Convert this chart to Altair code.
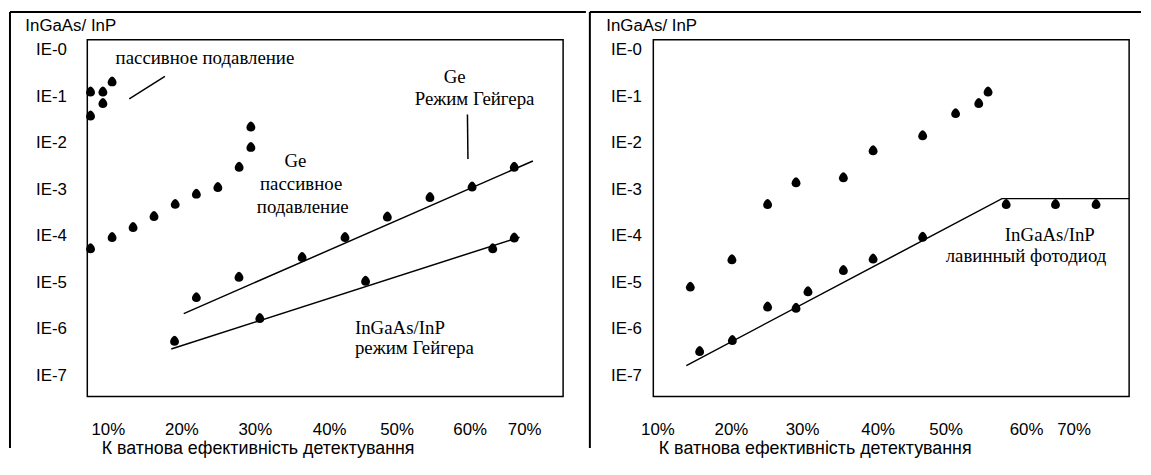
import altair as alt
import pandas as pd

# ---------------- data ----------------
# x: quantum detection efficiency, %   y: dark-count probability (log)
x_ticks = [10, 20, 30, 40, 50, 60, 70]
y_ticks = [1, 1e-1, 1e-2, 1e-3, 1e-4, 1e-5, 1e-6, 1e-7]

# left panel
inp_passive_x = [7.65, 7.65, 9.33, 9.33, 10.58]
inp_passive_y = [0.124, 0.038, 0.124, 0.0706, 0.205]

ge_passive_x = [7.65, 10.58, 13.43, 16.27, 19.15, 22.03, 24.96, 27.86, 29.46, 29.46]
ge_passive_y = [5.3e-5, 9.2e-5, 1.52e-4, 2.62e-4, 4.76e-4, 7.9e-4, 1.10e-3, 3.0e-3, 8.0e-3, 2.2e-2]

ge_geiger_x = [22.03, 27.84, 36.36, 42.35, 48.63, 54.57, 60.45, 68.18]
ge_geiger_y = [4.7e-6, 1.29e-5, 3.44e-5, 9.2e-5, 2.54e-4, 6.7e-4, 1.13e-3, 3.0e-3]
ge_geiger_fit_x = [20.31, 71.6]
ge_geiger_fit_y = [2.13e-6, 4.09e-3]

inp_geiger_x = [19.06, 30.67, 45.4, 64.24, 68.18]
inp_geiger_y = [5.4e-7, 1.67e-6, 1.06e-5, 5.3e-5, 9.0e-5]
inp_geiger_fit_x = [18.61, 69.15]
inp_geiger_fit_y = [3.7e-7, 9.4e-5]

callout_x = [12.91, 59.70]
callout_x2 = [17.75, 59.77]
callout_y = [0.0889, 0.0411]
callout_y2 = [0.271, 4.51e-3]

left_text = ["пассивное подавление", "Ge", "пассивное", "подавление", "Ge", "Режим Гейгера"]
left_text_x = [23.2, 35.47, 36.23, 36.44, 57.96, 60.91]
left_text_y = [0.507, 3.1e-3, 9.7e-4, 3.18e-4, 0.195, 0.064]
left_text2 = ["InGaAs/InP", "режим Гейгера"]
left_text2_x = [43.82, 43.82]
left_text2_y = [7.75e-7, 2.9e-7]

# right panel
upper_x = [14.47, 20.14, 25.16, 29.16, 35.47, 39.40, 46.61, 51.23, 54.11, 55.27]
upper_y = [7.9e-6, 3.08e-5, 4.72e-4, 1.39e-3, 1.78e-3, 6.8e-3, 1.43e-2, 4.26e-2, 7.06e-2, 0.124]

apd_x = [15.74, 20.2, 25.16, 29.16, 30.79, 35.47, 39.40, 46.61, 57.53, 66.19, 74.73]
apd_y = [3.25e-7, 5.6e-7, 2.96e-6, 2.77e-6, 6.3e-6, 1.79e-5, 3.17e-5, 9.3e-5, 4.72e-4, 4.72e-4, 4.72e-4]
apd_fit_x = [13.93, 57.0, 81.7]
apd_fit_y = [1.63e-7, 6.34e-4, 6.34e-4]

right_text = ["InGaAs/InP", "лавинный фотодиод"]
right_text_x = [65.0, 60.0]
right_text_y = [7.7e-5, 2.74e-5]

# ---------------- styling / layout ----------------
W, H = 480, 360
SANS = "Liberation Sans, Arial, DejaVu Sans, sans-serif"
SERIF = "Liberation Serif, Times New Roman, DejaVu Serif, serif"
DROP = ("M0,-1.25 C0.35,-1.25 1,-0.45 1,0.1 C1,0.7 0.55,1 0,1 "
        "C-0.55,1 -1,0.7 -1,0.1 C-1,-0.45 -0.35,-1.25 0,-1.25 Z")

# piecewise x scales (the original's tick labels are unevenly spaced)
left_x_domain = [7.21, 10, 20, 30, 40, 50, 60, 70, 76.96]
left_x_range = [0, 20.7, 95, 169, 244, 312, 385.7, 440.7, 479]
right_x_domain = [9.43, 10, 20, 30, 40, 50, 60, 70, 81.7]
right_x_range = [0, 4.2, 78.3, 150, 226.3, 295, 376, 424, 480]
y_domain = [10 ** -7.455, 10 ** 0.22]

XTITLE = "К ватнова ефективність детектування"


def panel(x_domain, x_range, ylab_pad, ytitle_x, xtitle_x, points, fits, segs, texts, frame):
    xs = alt.X("x:Q",
               scale=alt.Scale(domain=x_domain, range=x_range, nice=False, zero=False),
               axis=alt.Axis(values=x_ticks, labelExpr="datum.value + '%'",
                             title=XTITLE, titleAnchor="start", titleAlign="left",
                             titleX=xtitle_x, titlePadding=2, labelPadding=25,
                             titleFontSize=18,
                             labelFlush=False, labelOverlap=False))
    ys = alt.Y("y:Q",
               scale=alt.Scale(type="log", domain=y_domain, nice=False),
               axis=alt.Axis(values=y_ticks,
                             labelExpr="'IE-' + round(abs(log(datum.value) / LN10))",
                             labelPadding=ylab_pad, labelOverlap=False,
                             title="InGaAs/ InP", titleAngle=0, titleX=ytitle_x, titleY=-14,
                             titleAlign="left", titleBaseline="middle"))
    layers = []
    for px, py in points:
        layers.append(
            alt.Chart(pd.DataFrame({"x": px, "y": py}))
            .mark_point(shape=DROP, filled=True, color="black", opacity=1, size=80)
            .encode(x=xs, y=ys))
    for fx, fy in fits:
        layers.append(
            alt.Chart(pd.DataFrame({"x": fx, "y": fy}))
            .mark_line(color="black", strokeWidth=1.5)
            .encode(x=xs, y=ys))
    if segs is not None:
        sx, sx2, sy, sy2 = segs
        layers.append(
            alt.Chart(pd.DataFrame({"x": sx, "x2": sx2, "y": sy, "y2": sy2}))
            .mark_rule(color="black", strokeWidth=1.5)
            .encode(x=xs, y=ys, x2="x2:Q", y2="y2:Q"))
    for t, tx, ty, al in texts:
        layers.append(
            alt.Chart(pd.DataFrame({"t": t, "x": tx, "y": ty}))
            .mark_text(font=SERIF, fontSize=19, color="black", align=al, baseline="alphabetic")
            .encode(x=xs, y=ys, text="t:N"))
    dummy = pd.DataFrame({"a": [0]})
    for (x1, x2, y1, y2) in frame:
        enc = {"x": alt.value(x1), "y": alt.value(y1)}
        if x2 is not None:
            enc["x2"] = alt.value(x2)
        if y2 is not None:
            enc["y2"] = alt.value(y2)
        layers.append(alt.Chart(dummy).mark_rule(color="black", strokeWidth=2).encode(**enc))
    return alt.layer(*layers).properties(width=W, height=H)


left = panel(
    left_x_domain, left_x_range, 21, -63, 14,
    points=[(inp_passive_x, inp_passive_y), (ge_passive_x, ge_passive_y),
            (ge_geiger_x, ge_geiger_y), (inp_geiger_x, inp_geiger_y)],
    fits=[(ge_geiger_fit_x, ge_geiger_fit_y), (inp_geiger_fit_x, inp_geiger_fit_y)],
    segs=(callout_x, callout_x2, callout_y, callout_y2),
    texts=[(left_text, left_text_x, left_text_y, "center"),
           (left_text2, left_text2_x, left_text2_y, "left")],
    frame=[(-78, 503, -28, None), (-78, None, -28, 412)],
)

right = panel(
    right_x_domain, right_x_range, 12, -48, 5,
    points=[(upper_x, upper_y), (apd_x, apd_y)],
    fits=[(apd_fit_x, apd_fit_y)],
    segs=None,
    texts=[(right_text, right_text_x, right_text_y, "center")],
    frame=[(-64, 492, -28, None), (-64, None, -28, 412)],
)

chart = (
    alt.hconcat(left, right, spacing=0)
    .properties(padding=0, background="white")
    .configure_view(stroke="black", strokeWidth=1.5)
    .configure_axis(grid=False, ticks=False, domain=False,
                    labelFont=SANS, labelFontSize=17, labelColor="black",
                    titleFont=SANS, titleFontSize=17, titleFontWeight="normal", titleColor="black")
)

chart.save("out.html", embed_options={"renderer": "svg", "actions": False})
